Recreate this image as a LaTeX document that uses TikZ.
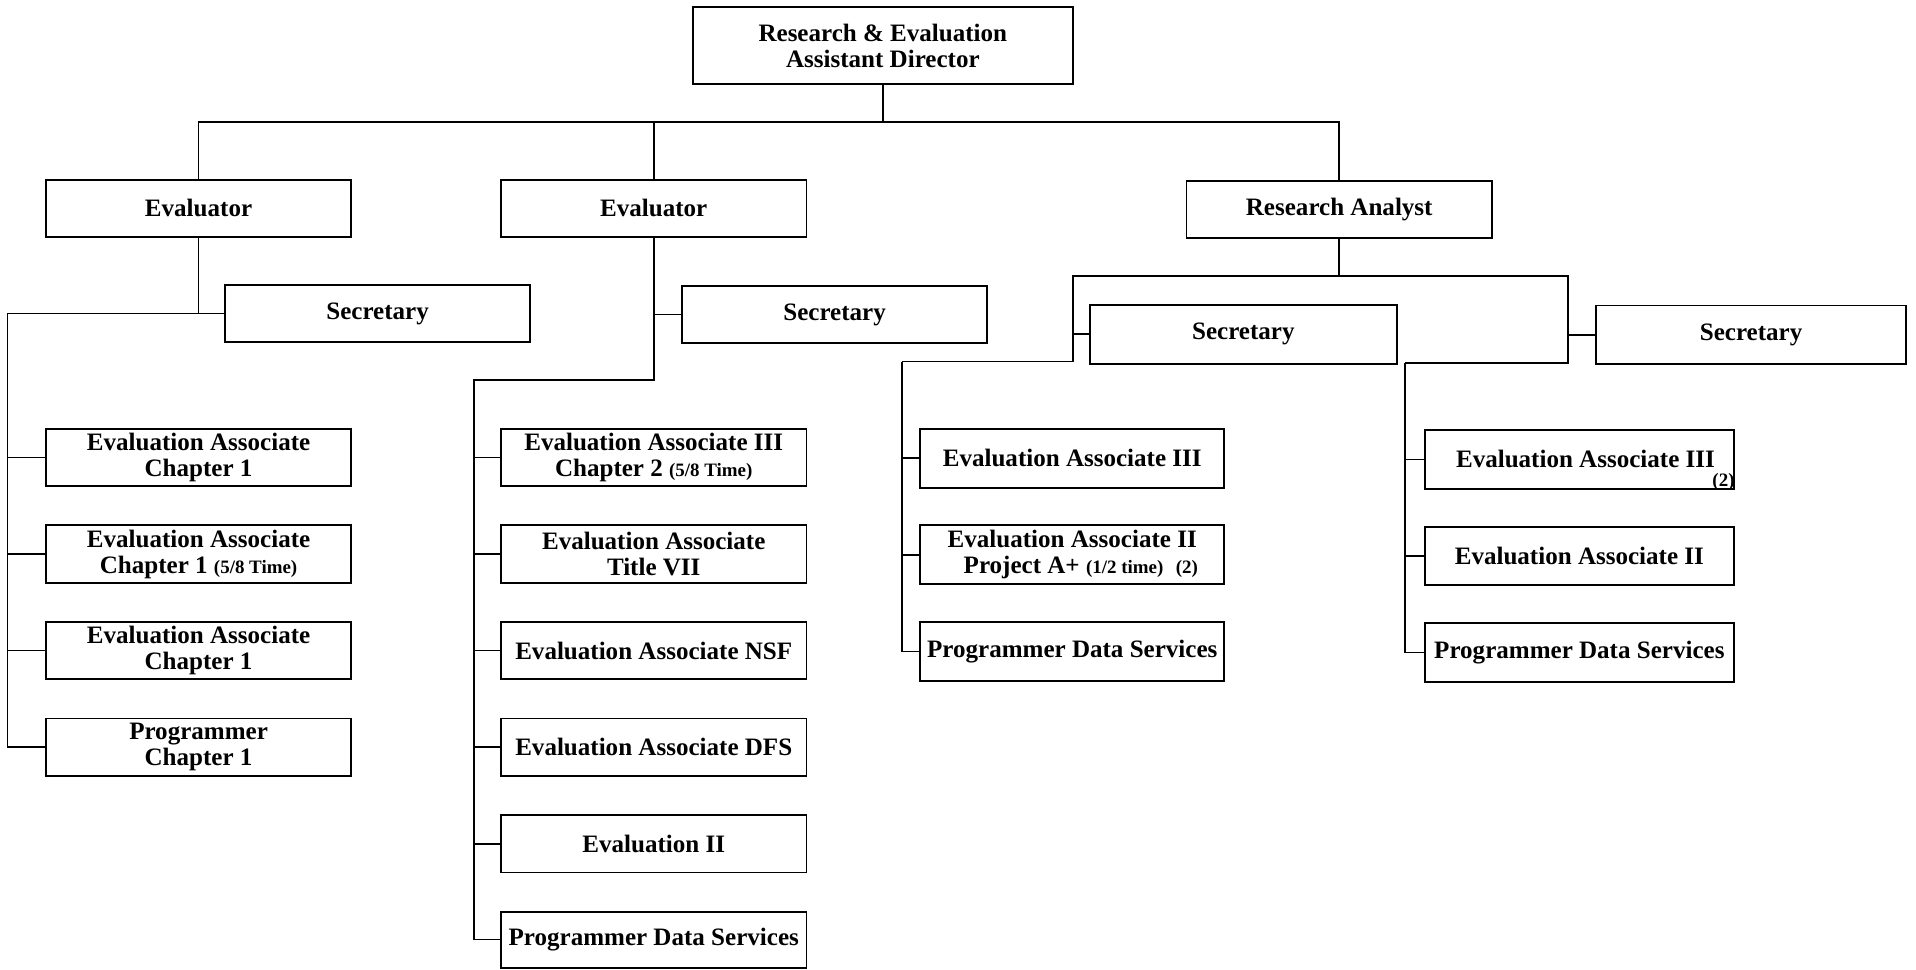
\documentclass[tikz,border=0pt]{standalone}
\usepackage{fontspec}
\setmainfont{Liberation Serif}
\newcommand\smalltxt{\fontsize{15.5}{16}\selectfont}
\begin{document}
\begin{tikzpicture}[x=1pt,y=-1pt,
  box/.style={draw, line width=1.6pt, minimum width=250pt, minimum height=47pt,
    inner sep=0pt, align=center, font=\fontsize{20.5}{21.5}\selectfont\bfseries},
  wide/.style={minimum width=253pt, minimum height=48pt},
  link/.style={line width=1.3pt}]
\useasboundingbox (0,0) rectangle (1568,793);

% director and the three heads
\node[box, minimum width=311pt, minimum height=63pt] (dir) at (722.5,37.5)
  {Research \& Evaluation\\Assistant Director};
\node[box] (ev1) at (162.5,170.5) {Evaluator};
\node[box] (ev2) at (535,170.5) {Evaluator};
\node[box] (ra) at (1096,171.5) {Research Analyst};

% secretaries
\node[box] (sec1) at (309,256.5) {Secretary};
\node[box] (sec2) at (683,257.5) {Secretary};
\node[box, minimum width=251pt, minimum height=48pt] (sec3) at (1017.5,273.5) {Secretary};
\node[box, minimum width=254pt, minimum height=48pt] (sec4) at (1433,274) {Secretary};

% first evaluator's staff
\node[box, minimum width=249pt] (a1) at (162.5,374.5) {Evaluation Associate\\Chapter 1};
\node[box, minimum width=249pt] (a2) at (162.5,453.5) {Evaluation Associate\\Chapter 1 {\smalltxt(5/8 Time)}};
\node[box, minimum width=249pt] (a3) at (162.5,532.5) {Evaluation Associate\\Chapter 1};
\node[box, minimum width=249pt] (a4) at (162.5,611.5) {Programmer\\Chapter 1};

% second evaluator's staff
\node[box] (b1) at (535,374.5) {Evaluation Associate III\\Chapter 2 {\smalltxt(5/8 Time)}};
\node[box] (b2) at (535,453.5) {Evaluation Associate\\Title VII};
\node[box] (b3) at (535,532.5) {Evaluation Associate NSF};
\node[box] (b4) at (535,611.5) {Evaluation Associate DFS};
\node[box] (b5) at (535,690.5) {Evaluation II};
\node[box, minimum height=46pt] (b6) at (535,769) {Programmer Data Services};

% research analyst's staff, left group
\node[box, wide, minimum width=249pt] (c1) at (877.5,375) {Evaluation Associate III};
\node[box, wide, minimum width=249pt] (c2) at (877.5,454)
  {Evaluation Associate II\\\hspace*{14pt}Project A+ {\smalltxt(1/2 time)}\enspace{\smalltxt(2)}};
\node[box, wide, minimum width=249pt] (c3) at (877.5,533) {Programmer Data Services};

% research analyst's staff, right group
\node[box, wide] (d1) at (1292.5,376)
  {\hspace*{10pt}Evaluation Associate III\rlap{\smash{\raisebox{-15pt}{\smalltxt\kern-2pt(2)}}}};
\node[box, wide] (d2) at (1292.5,455) {Evaluation Associate II};
\node[box, wide] (d3) at (1292.5,534) {Programmer Data Services};

% top level connectors
\coordinate (top) at (722.5,100);
\draw[link] (dir.south) -- (top);
\draw[link] (ev1.north) |- (ra.north |- top) -- (ra.north);
\draw[link] (ev2.north) -- (ev2.north |- top);

% first evaluator
\coordinate (l1) at (6,257);
\draw[link] (ev1.south) |- (sec1.west);
\draw[link] (sec1.west) -- (sec1.west -| l1) |- (a4.west);
\foreach \n in {a1,a2,a3} \draw[link] (\n.west) -- (\n.west -| l1);

% second evaluator
\coordinate (l2) at (388,311);
\draw[link] (ev2.south) -- (ev2.south |- l2) -- (l2) |- (b6.west);
\draw[link] (sec2.west) -- (sec2.west -| ev2.south);
\foreach \n in {b1,b2,b3,b4,b5} \draw[link] (\n.west) -- (\n.west -| l2);

% research analyst
\coordinate (rbus) at (1096,226);
\coordinate (r3) at (878,226);
\coordinate (r4) at (1283,226);
\coordinate (l3) at (738,296);
\coordinate (l4) at (1150,297);
\draw[link] (ra.south) -- (rbus);
\draw[link] (l3) -- (l3 -| r3) -- (r3) -- (r4) -- (l4 -| r4) -- (l4);
\draw[link] (sec3.west) -- (sec3.west -| r3);
\draw[link] (sec4.west) -- (sec4.west -| r4);
\draw[link] (l3) |- (c3.west);
\draw[link] (l4) |- (d3.west);
\foreach \n in {c1,c2} \draw[link] (\n.west) -- (\n.west -| l3);
\foreach \n in {d1,d2} \draw[link] (\n.west) -- (\n.west -| l4);
\end{tikzpicture}
\end{document}
